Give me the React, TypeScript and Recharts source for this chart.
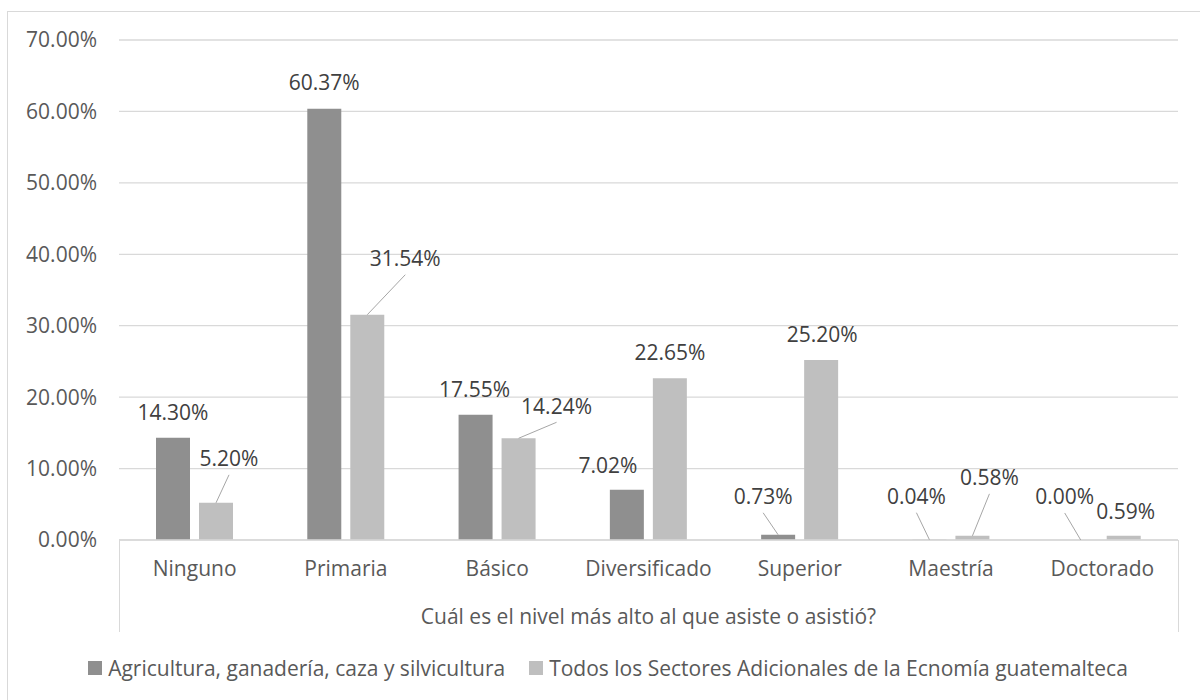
import React from 'react';
import { BarChart, Bar, XAxis, YAxis, CartesianGrid, Legend, LabelList } from 'recharts';

// ---- data ----
const categories = ['Ninguno', 'Primaria', 'Básico', 'Diversificado', 'Superior', 'Maestría', 'Doctorado'];
const agricultura = [14.3, 60.37, 17.55, 7.02, 0.73, 0.04, 0.0];
const otrosSectores = [5.2, 31.54, 14.24, 22.65, 25.2, 0.58, 0.59];
const yTicks = [0, 10, 20, 30, 40, 50, 60, 70];
const seriesNames = [
  'Agricultura, ganadería, caza y silvicultura',
  'Todos los Sectores Adicionales de la Ecnomía guatemalteca',
];
const axisTitle = 'Cuál es el nivel más alto al que asiste o asistió?';

const data = categories.map((c, i) => ({
  category: c,
  agricultura: agricultura[i],
  otros: otrosSectores[i],
}));

// ---- styling (label placement like the original, relative to bar top) ----
const FONT = '"Open Sans", sans-serif';
const FS = 21;
const DARK = '#8f8f8f';
const LIGHT = '#bfbfbf';
const GRID = '#d9d9d9';
const AXIS_TEXT = '#595959';
const LABEL_TEXT = '#404040';

const darkLabelShift = [[0, -25], [0, -26], [-1, -25], [-19, -24], [-15, -38], [-13, -43], [-16, -43]];
const darkLeader = [false, false, false, false, true, true, true];
const lightLabelShift = [[13, -44], [38, -56], [38, -32], [0, -26], [1, -25], [17, -58], [2, -24]];
const lightLeader = [true, true, true, false, false, true, false];

const makeLabel = (shift: number[][], leader: boolean[]) => (props: any) => {
  const { x, y, width, value, index } = props;
  const cx = Number(x) + Number(width) / 2;
  const top = Number(y);
  const [dx, dy] = shift[index] || [0, -25];
  const tx = cx + dx;
  const ty = top + dy;
  return (
    <g>
      {leader[index] && (
        <line x1={cx} y1={top} x2={tx} y2={ty + 16} stroke="#a6a6a6" strokeWidth={1} />
      )}
      <text
        x={tx}
        y={ty}
        dy="0.35em"
        textAnchor="middle"
        fontFamily={FONT}
        fontSize={FS}
        fill={LABEL_TEXT}
      >
        {Number(value).toFixed(2)}%
      </text>
    </g>
  );
};

const LegendContent = () => (
  <div
    style={{
      height: 68,
      boxSizing: 'border-box',
      paddingTop: 24,
      paddingLeft: 16,
      display: 'flex',
      justifyContent: 'center',
      alignItems: 'flex-start',
      fontFamily: FONT,
      fontSize: FS,
      color: AXIS_TEXT,
      lineHeight: '24px',
    }}
  >
    {seriesNames.map((name, i) => (
      <div key={name} style={{ display: 'flex', alignItems: 'center', marginRight: i === 0 ? 24 : 0 }}>
        <span
          style={{
            display: 'inline-block',
            width: 14,
            height: 14,
            background: i === 0 ? DARK : LIGHT,
            marginRight: 6,
          }}
        />
        <span style={{ whiteSpace: 'nowrap' }}>{name}</span>
      </div>
    ))}
  </div>
);

export default function App() {
  return (
    <div
      style={{
        position: 'fixed',
        left: 0,
        top: 0,
        width: 1200,
        height: 700,
        overflow: 'hidden',
        background: '#ffffff',
      }}
    >
      <div
        style={{
          position: 'absolute',
          left: 7,
          top: 11,
          width: 1300,
          height: 800,
          border: `1px solid ${GRID}`,
        }}
      />
      <div
        style={{
          position: 'absolute',
          left: 119,
          top: 540,
          width: 1058,
          height: 92,
          borderLeft: `1px solid ${GRID}`,
          borderRight: `1px solid ${GRID}`,
        }}
      />
      <div style={{ position: 'absolute', left: 0, top: 0 }}>
        <BarChart
          width={1200}
          height={700}
          data={data}
          margin={{ top: 40, right: 22, bottom: 0, left: 0 }}
          barSize={34}
          barGap={9}
          style={{ fontFamily: FONT }}
        >
          <CartesianGrid vertical={false} stroke={GRID} strokeWidth={1.3} />
          <YAxis
            width={119}
            domain={[0, 70]}
            ticks={yTicks}
            interval={0}
            axisLine={false}
            tickLine={false}
            tickSize={0}
            tickMargin={22}
            tickFormatter={(v: number) => `${v.toFixed(2)}%`}
            tick={{ fill: AXIS_TEXT, fontSize: FS, fontFamily: FONT }}
          />
          <XAxis
            dataKey="category"
            height={92}
            interval={0}
            axisLine={{ stroke: GRID, strokeWidth: 1.3 }}
            tickLine={false}
            tickSize={0}
            tickMargin={21}
            tick={{ fill: AXIS_TEXT, fontSize: FS, fontFamily: FONT }}
            label={{
              value: axisTitle,
              position: 'insideBottom',
              offset: 8,
              fill: AXIS_TEXT,
              fontSize: FS,
              fontFamily: FONT,
            }}
          />
          <Legend
            verticalAlign="bottom"
            content={<LegendContent />}
            wrapperStyle={{ left: 0, width: 1200 }}
          />
          <Bar
            dataKey="agricultura"
            name={seriesNames[0]}
            fill={DARK}
            minPointSize={0.01}
            isAnimationActive={false}
          >
            <LabelList dataKey="agricultura" content={makeLabel(darkLabelShift, darkLeader)} />
          </Bar>
          <Bar dataKey="otros" name={seriesNames[1]} fill={LIGHT} isAnimationActive={false}>
            <LabelList dataKey="otros" content={makeLabel(lightLabelShift, lightLeader)} />
          </Bar>
        </BarChart>
      </div>
    </div>
  );
}
